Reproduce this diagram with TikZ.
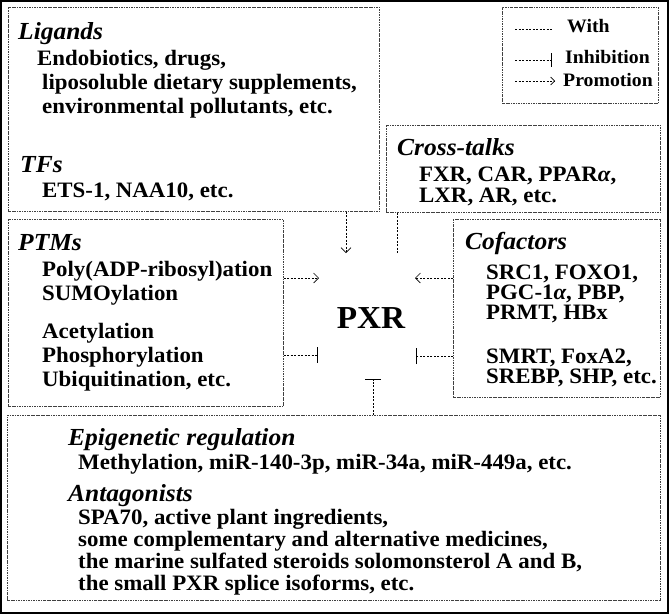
\documentclass[tikz,border=0pt]{standalone}
\usepackage{fontspec}
\setmainfont{Liberation Serif}[FakeStretch=1.04]
\usetikzlibrary{arrows.meta}
\begin{document}
\begin{tikzpicture}[x=1pt,y=-1pt,
 box/.style={draw=black!75, line width=0.6pt, dash pattern=on 2.5pt off 1pt on 0.6pt off 1pt, inner sep=0, anchor=north west},
 ttl/.style={anchor=base west, inner sep=0, font=\fontsize{24.5}{24.5}\selectfont\bfseries\itshape},
 txt/.style={anchor=base west, inner sep=0, font=\fontsize{22}{22}\selectfont\bfseries},
 lgd/.style={anchor=base west, inner sep=0, font=\fontsize{19}{19}\selectfont\bfseries},
 conn/.style={draw=black, line width=0.6pt, dash pattern=on 2pt off 1.5pt},
 prom/.style={conn, -{Straight Barb[length=5pt,width=10pt,line width=0.6pt]}},
 inhib/.style={conn, -{Bar[width=16pt,line width=0.8pt]}},
 lprom/.style={conn, -{Straight Barb[length=4pt,width=8pt,line width=0.6pt]}},
 linhib/.style={conn, -{Bar[width=14pt,line width=0.8pt]}},
]
\useasboundingbox (0,0) rectangle (669,614);
\draw[line width=2pt] (1,1) rectangle (668,613);

% boxes
\node[box, minimum width=371pt, minimum height=204pt] (ligands) at (8,7) {};
\node[box, minimum width=156pt, minimum height=96pt] (legend) at (502,7) {};
\node[box, minimum width=274pt, minimum height=87pt] (cross) at (386,125) {};
\node[box, minimum width=275pt, minimum height=187pt] (ptms) at (8,219) {};
\node[box, minimum width=207pt, minimum height=178pt] (cof) at (453,219) {};
\node[box, minimum width=653pt, minimum height=185pt] (bottom) at (7,415) {};

% ligands / TFs
\node[ttl] (tlig) at (18,39) {Ligands};
\node[txt] (lig1) at (37,65) {Endobiotics, drugs,};
\node[txt] (lig2) at (42,89) {liposoluble dietary supplements,};
\node[txt] (lig3) at (42,113) {environmental pollutants, etc.};
\node[ttl] (ttfs) at (20,172) {TFs};
\node[txt] (tfs1) at (42,197) {ETS-1, NAA10, etc.};

% legend
\coordinate (lw1) at (515,29); \coordinate (lw2) at (552,29);
\coordinate (li1) at (515,60); \coordinate (li2) at (552,60);
\coordinate (lp1) at (515,81); \coordinate (lp2) at (555,81);
\draw[conn] (lw1) -- (lw2);
\draw[linhib] (li1) -- (li2);
\draw[lprom] (lp1) -- (lp2);
\node[lgd] (lgw) at (567,32) {With};
\node[lgd] (lgi) at (565,63) {Inhibition};
\node[lgd] (lgp) at (563,86) {Promotion};

% cross-talks
\node[ttl] (tcross) at (397,155) {Cross-talks};
\node[txt] (cr1) at (419,181) {FXR, CAR, PPAR{\itshape α},};
\node[txt] (cr2) at (419,202) {LXR, AR, etc.};

% PTMs
\node[ttl] (tptm) at (18,250) {PTMs};
\node[txt] (pt1) at (42,276) {Poly(ADP-ribosyl)ation};
\node[txt] (pt2) at (42,300) {SUMOylation};
\node[txt] (pt3) at (42,338) {Acetylation};
\node[txt] (pt4) at (42,362) {Phosphorylation};
\node[txt] (pt5) at (42,386) {Ubiquitination, etc.};

% PXR
\node[anchor=base, inner sep=0, font=\fontsize{32}{32}\selectfont\bfseries] (pxr) at (371,328) {PXR};

% cofactors
\node[ttl] (tcof) at (465,249) {Cofactors};
\node[txt] (cf1) at (486,279) {SRC1, FOXO1,};
\node[txt] (cf2) at (486,299) {PGC-1{\itshape α}, PBP,};
\node[txt] (cf3) at (486,319) {PRMT, HBx};
\node[txt] (cf4) at (486,363) {SMRT, FoxA2,};
\node[txt] (cf5) at (486,383) {SREBP, SHP, etc.};

% bottom
\node[ttl] (tepi) at (68,445) {Epigenetic regulation};
\node[txt] (ep1) at (78,469) {Methylation, miR-140-3p, miR-34a, miR-449a, etc.};
\node[ttl] (tant) at (68,501) {Antagonists};
\node[txt] (an1) at (78,524) {SPA70, active plant ingredients,};
\node[txt] (an2) at (78,546) {some complementary and alternative medicines,};
\node[txt] (an3) at (78,568) {the marine sulfated steroids solomonsterol A and B,};
\node[txt] (an4) at (78,590) {the small PXR splice isoforms, etc.};

% connectors
\coordinate (eLig) at (346,253);
\coordinate (eCross) at (397,254);
\coordinate (ePtmP) at (319,278);
\coordinate (ePtmI) at (318,355);
\coordinate (eCofP) at (415,278);
\coordinate (eCofI) at (416,356);
\coordinate (eBot) at (373,379);
\draw[prom] (ligands.south -| eLig) -- (eLig);
\draw[conn] (cross.south -| eCross) -- (eCross);
\draw[prom] (ptms.east |- ePtmP) -- (ePtmP);
\draw[inhib] (ptms.east |- ePtmI) -- (ePtmI);
\draw[prom] (cof.west |- eCofP) -- (eCofP);
\draw[inhib] (cof.west |- eCofI) -- (eCofI);
\draw[inhib] (bottom.north -| eBot) -- (eBot);
\end{tikzpicture}
\end{document}
